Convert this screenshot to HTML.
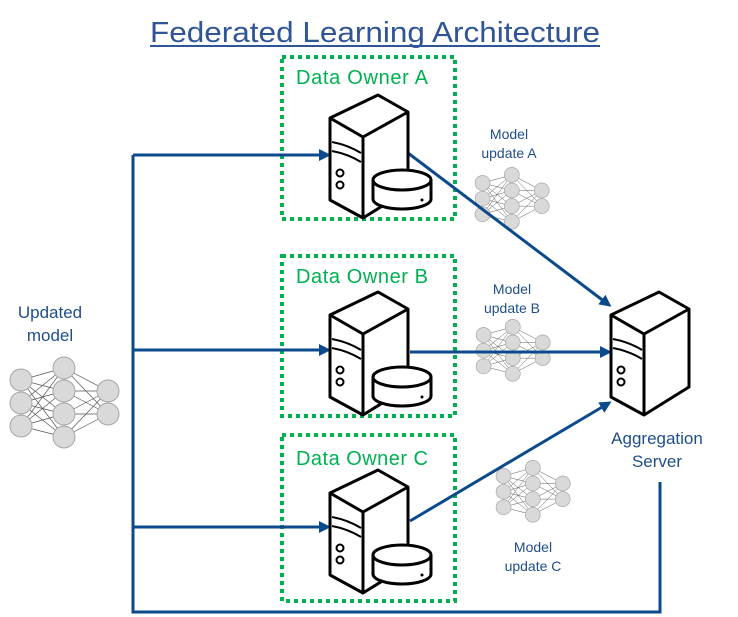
<!DOCTYPE html>
<html><head><meta charset="utf-8"><style>
html,body{margin:0;padding:0;background:#fff;}
svg{display:block;}
text{font-family:"Liberation Sans","DejaVu Sans",sans-serif;}
</style></head><body>
<svg width="738" height="617" viewBox="0 0 738 617" xmlns="http://www.w3.org/2000/svg">
<defs>
<marker id="ah" markerWidth="12" markerHeight="12" refX="9" refY="6" orient="auto" markerUnits="userSpaceOnUse" viewBox="0 0 12 12">
<path d="M0,0 L12,6 L0,12 Z" fill="#0b4a8b"/>
</marker>
<g id="srv" fill="#fff" stroke="#000" stroke-width="3" stroke-linejoin="round">
<path d="M0,23 L48,0 L78,17 L78,95 L33,123 L0,105 Z"/>
<path d="M0,23 L33,42 L78,17 M33,42 L33,123" fill="none"/>
<path d="M2,47 Q18,50 31,58 M2,56 Q18,59 31,67" fill="none" stroke-width="2"/>
<circle cx="10" cy="78" r="3.5" stroke-width="2"/>
<circle cx="10" cy="90" r="3.5" stroke-width="2"/>
</g>
<g id="disk" fill="#fff" stroke="#000" stroke-width="3">
<path d="M-29,0 L-29,19 A29,10 0 0 0 29,19 L29,0"/>
<ellipse cx="0" cy="0" rx="29" ry="10"/>
<circle cx="20" cy="20" r="1.5" fill="#000" stroke="none"/>
</g>
<g id="nn">
<g stroke="#555" stroke-width="0.7">
<path d="M17,25 L60,13 M17,25 L60,36 M17,25 L60,59 M17,25 L60,82 M17,48 L60,13 M17,48 L60,36 M17,48 L60,59 M17,48 L60,82 M17,71 L60,13 M17,71 L60,36 M17,71 L60,59 M17,71 L60,82 M60,13 L104,36 M60,13 L104,59 M60,36 L104,36 M60,36 L104,59 M60,59 L104,36 M60,59 L104,59 M60,82 L104,36 M60,82 L104,59"/>
</g>
<g fill="#d9d9d9" stroke="#a6a6a6" stroke-width="1">
<circle cx="17" cy="25" r="11"/><circle cx="17" cy="48" r="11"/><circle cx="17" cy="71" r="11"/>
<circle cx="60" cy="13" r="11"/><circle cx="60" cy="36" r="11"/><circle cx="60" cy="59" r="11"/><circle cx="60" cy="82" r="11"/>
<circle cx="104" cy="36" r="11"/><circle cx="104" cy="59" r="11"/>
</g>
</g>
</defs>

<text x="375" y="42" text-anchor="middle" font-size="29" fill="#2f5597" textLength="450" lengthAdjust="spacingAndGlyphs">Federated  Learning  Architecture</text>
<rect x="150" y="45" width="450" height="2" fill="#2f5597"/>

<g fill="none" stroke="#00b050" stroke-width="4" stroke-dasharray="4,4">
<rect x="282" y="57" width="173" height="162"/>
<rect x="282" y="256" width="173" height="160"/>
<rect x="282" y="435" width="173" height="166"/>
</g>
<g font-size="20" fill="#00b050">
<text x="296" y="84" textLength="132">Data Owner A</text>
<text x="296" y="283" textLength="132">Data Owner B</text>
<text x="296" y="465" textLength="132">Data Owner C</text>
</g>

<use href="#nn" x="4" y="355"/>
<use href="#nn" transform="translate(471,166) scale(0.68)"/>
<use href="#nn" transform="translate(472,318) scale(0.68)"/>
<use href="#nn" transform="translate(492,459) scale(0.68)"/>

<g fill="none" stroke="#0b4a8b" stroke-width="3">
<path d="M133,155 L133,612 L660,612 L660,482"/>
<path d="M133,155 L328,155" marker-end="url(#ah)"/>
<path d="M133,350 L328,350" marker-end="url(#ah)"/>
<path d="M133,527 L328,527" marker-end="url(#ah)"/>
<path d="M408,153 L609,305" marker-end="url(#ah)"/>
<path d="M410,352 L609,352" marker-end="url(#ah)"/>
<path d="M410,521 L609,403" marker-end="url(#ah)"/>
</g>

<use href="#srv" x="330" y="95"/><use href="#disk" x="402" y="180"/>
<use href="#srv" x="330" y="292"/><use href="#disk" x="402" y="377"/>
<use href="#srv" x="330" y="470"/><use href="#disk" x="402" y="555"/>
<use href="#srv" x="611" y="292"/>

<g fill="#1f4e8c" text-anchor="middle">
<text x="50" y="318" font-size="17">Updated</text>
<text x="50" y="341" font-size="17">model</text>
<text x="657" y="444" font-size="17">Aggregation</text>
<text x="657" y="467" font-size="17">Server</text>
<text x="509" y="139" font-size="14">Model</text>
<text x="509" y="158" font-size="14">update A</text>
<text x="512" y="294" font-size="14">Model</text>
<text x="512" y="313" font-size="14">update B</text>
<text x="533" y="552" font-size="14">Model</text>
<text x="533" y="571" font-size="14">update C</text>
</g>
</svg>
</body></html>
